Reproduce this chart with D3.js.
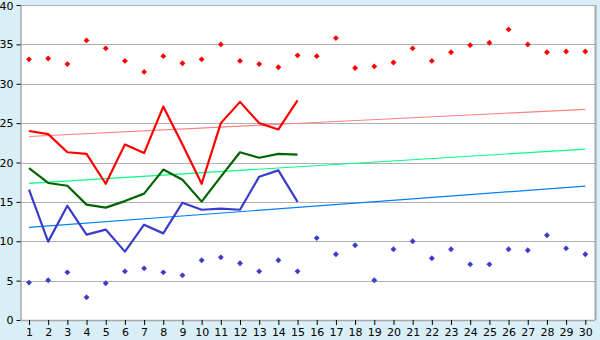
<!DOCTYPE html>
<html>
<head>
<meta charset="utf-8">
<script src="https://cdn.jsdelivr.net/npm/d3@7"></script>
<style>
  body { margin: 0; background: #d9eff7; }
  svg { display: block; }
</style>
</head>
<body>
<div id="chart"></div>
<script>
const days = d3.range(1, 31);
const maxPoints = [33.1, 33.2, 32.5, 35.5, 34.5, 32.9, 31.5, 33.5, 32.6, 33.1,
  35.0, 32.9, 32.5, 32.1, 33.6, 33.5, 35.8, 32.0, 32.2, 32.7,
  34.5, 32.9, 34.0, 34.9, 35.2, 36.9, 35.0, 34.0, 34.1, 34.1];
const minPoints = [4.75, 5.04, 6.05, 2.88, 4.66, 6.18, 6.56, 6.05, 5.67, 7.58,
  7.96, 7.2, 6.18, 7.58, 6.18, 10.4, 8.35, 9.49, 5.04, 8.98,
  10.0, 7.84, 8.98, 7.07, 7.07, 8.98, 8.85, 10.76, 9.1, 8.35];
const redLine = [24.0, 23.6, 21.3, 21.1, 17.3, 22.3, 21.2, 27.1, 22.3, 17.3, 25.0, 27.7, 25.0, 24.2, 27.9];
const greenLine = [19.3, 17.4, 17.05, 14.65, 14.27, 15.1, 16.05, 19.1, 17.8, 15.03, 18.2, 21.3, 20.6, 21.1, 21.0];
const blueLine = [16.56, 9.95, 14.5, 10.84, 11.48, 8.68, 12.1, 11.0, 14.9, 14.0, 14.15, 14.0, 18.2, 19.0, 15.0];
const trendRed = [23.3, 26.75];
const trendGreen = [17.35, 21.7];
const trendBlue = [11.77, 17.0];
const yTicks = [0, 5, 10, 15, 20, 25, 30, 35, 40];

const width = 600, height = 340;
const plotLeft = 20.5, plotRight = 595, plotTop = 5, plotBottom = 320;
const font = '"DejaVu Sans", Verdana, sans-serif';

const svg = d3.select('#chart').append('svg')
  .attr('width', width)
  .attr('height', height);

svg.append('rect').attr('width', width).attr('height', height).attr('fill', '#d9eff7');
svg.append('rect')
  .attr('x', plotLeft).attr('y', plotTop)
  .attr('width', plotRight - plotLeft).attr('height', plotBottom - plotTop)
  .attr('fill', '#fff');

const x = d3.scalePoint().domain(days).range([29, 585.3]);
const y = d3.scaleLinear().domain([0, 40]).range([plotBottom, plotTop]);

// grid
svg.append('g')
  .selectAll('line')
  .data(yTicks.slice(1))
  .enter()
  .append('line')
  .attr('x1', plotLeft).attr('x2', plotRight)
  .attr('y1', d => Math.round(y(d)) + 0.5)
  .attr('y2', d => Math.round(y(d)) + 0.5)
  .attr('stroke', '#b0b0b0');

// right border
svg.append('line')
  .attr('x1', plotRight + 0.5).attr('x2', plotRight + 0.5)
  .attr('y1', plotTop).attr('y2', plotBottom)
  .attr('stroke', '#a8a8a8').attr('stroke-width', 2);

// trend lines
const trends = [[trendRed, '#ff8080'], [trendGreen, '#00ff80'], [trendBlue, '#0080ff']];
trends.forEach(([t, color]) => {
  svg.append('line')
    .attr('x1', x(1)).attr('x2', x(30))
    .attr('y1', y(t[0])).attr('y2', y(t[1]))
    .attr('stroke', color).attr('stroke-width', 1.2);
});

// series lines
const line = d3.line().x((d, i) => x(i + 1)).y(d => y(d));
[[redLine, '#ff0000'], [greenLine, '#006400'], [blueLine, '#3b3bcc']].forEach(([data, color]) => {
  svg.append('path')
    .attr('d', line(data))
    .attr('fill', 'none')
    .attr('stroke', color)
    .attr('stroke-width', 2.2)
    .attr('stroke-linejoin', 'round');
});

// markers
const marker = d3.symbol().type(d3.symbolDiamond2).size(22);
[[maxPoints, '#ff0000'], [minPoints, '#3b3bcc']].forEach(([data, color]) => {
  svg.append('g')
    .selectAll('path')
    .data(data)
    .enter()
    .append('path')
    .attr('d', marker)
    .attr('transform', (d, i) => `translate(${x(i + 1)},${y(d)})`)
    .attr('fill', color);
});

// axes
const yAxis = svg.append('g')
  .attr('transform', `translate(${plotLeft},0)`)
  .call(d3.axisLeft(y).tickValues(yTicks).tickSize(4).tickPadding(3));
const xAxis = svg.append('g')
  .attr('transform', `translate(0,${plotBottom})`)
  .call(d3.axisBottom(x).tickSize(5).tickPadding(3));

[yAxis, xAxis].forEach(a => {
  a.select('.domain').attr('stroke', '#a8a8a8').attr('stroke-width', 1.5);
  a.selectAll('.tick line').attr('stroke', '#000');
  a.selectAll('text')
    .attr('font-family', font)
    .attr('font-size', 11)
    .attr('fill', '#000');
});
// keep the top label inside the window
yAxis.selectAll('.tick text').filter(d => d === 40).attr('dy', '0.42em');
xAxis.select('.domain').attr('d', `M${plotLeft},0.5H${plotRight}`);
yAxis.select('.domain').attr('d', `M0.5,${plotTop}V${plotBottom}`);
</script>
</body>
</html>
